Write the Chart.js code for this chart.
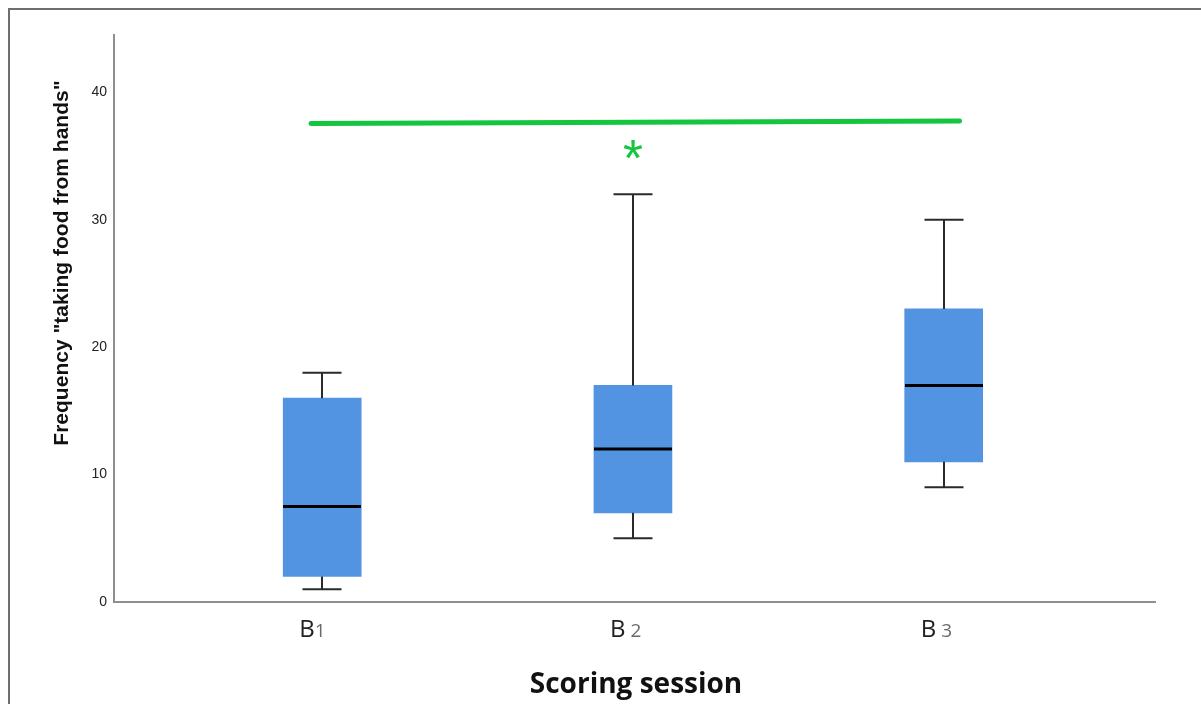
<!DOCTYPE html>
<html>
<head>
<meta charset="utf-8">
<script src="https://cdn.jsdelivr.net/npm/chart.js@4.4.1/dist/chart.umd.min.js"></script>
<style>
  html, body { margin: 0; padding: 0; background: #ffffff; }
  #wrap { width: 1201px; height: 704px; position: relative; }
</style>
</head>
<body>
<div id="wrap"><canvas id="chart" width="1201" height="704"></canvas></div>
<script>
// Scoring sessions and five-number summaries of the frequency counts
const categories   = ['B1', 'B 2', 'B 3'];
const whiskerLow   = [1, 5, 9];
const quartile1    = [2, 7, 11];
const medians      = [7.5, 12, 17];
const quartile3    = [16, 17, 23];
const whiskerHigh  = [18, 32, 30];
const yTicks       = [0, 10, 20, 30, 40];

// Significance bracket between B1 and B3, with its marker above B2
const bracketX     = [0.964, 3.051];
const bracketY     = [37.55, 37.75];
const sigMark      = '*';
const sigMarkAt    = 2;
const sigMarkY     = 35.5;

const yTitle = 'Frequency "taking food from hands"';
const xTitle = 'Scoring session';

const BOX_COLOR = '#5294e2';
const GREEN = '#14c63f';

function strokeLine(ctx, x1, y1, x2, y2) {
  ctx.beginPath();
  ctx.moveTo(x1, y1);
  ctx.lineTo(x2, y2);
  ctx.stroke();
}

// Page frame drawn behind everything
const framePlugin = {
  id: 'frame',
  beforeDraw(chart) {
    const ctx = chart.ctx;
    ctx.save();
    ctx.fillStyle = '#ffffff';
    ctx.fillRect(0, 0, chart.width, chart.height);
    ctx.strokeStyle = '#6e6e6e';
    ctx.lineWidth = 2;
    ctx.beginPath();
    ctx.moveTo(9, chart.height);
    ctx.lineTo(9, 9);
    ctx.lineTo(chart.width, 9);
    ctx.stroke();
    ctx.restore();
  }
};

// Whiskers, caps and median lines over the quartile boxes
const boxPlotPlugin = {
  id: 'boxPlot',
  afterDatasetsDraw(chart) {
    const ctx = chart.ctx;
    const y = chart.scales.y;
    const meta = chart.getDatasetMeta(0);
    ctx.save();
    categories.forEach((c, i) => {
      const bar = meta.data[i];
      const cx = Math.round(bar.x);
      const half = bar.width / 2;
      const capHalf = half / 2;
      const pHigh = y.getPixelForValue(whiskerHigh[i]);
      const pQ3 = y.getPixelForValue(quartile3[i]);
      const pQ1 = y.getPixelForValue(quartile1[i]);
      const pLow = y.getPixelForValue(whiskerLow[i]);
      const pMed = y.getPixelForValue(medians[i]);

      ctx.strokeStyle = '#2a2a2a';
      ctx.lineWidth = 2;
      strokeLine(ctx, cx, pQ3, cx, pHigh);
      strokeLine(ctx, cx - capHalf, pHigh, cx + capHalf, pHigh);
      strokeLine(ctx, cx, pQ1, cx, pLow);
      strokeLine(ctx, cx - capHalf, pLow, cx + capHalf, pLow);

      ctx.strokeStyle = '#000000';
      ctx.lineWidth = 3;
      strokeLine(ctx, cx - half, pMed, cx + half, pMed);
    });
    ctx.restore();
  }
};

// Axis titles, session labels and the significance marker
const textPlugin = {
  id: 'texts',
  afterDraw(chart) {
    const ctx = chart.ctx;
    const x = chart.scales.x;
    const y = chart.scales.y;
    ctx.save();

    // y-axis title
    ctx.save();
    ctx.translate(68, 263);
    ctx.rotate(-Math.PI / 2);
    ctx.font = 'bold 21px "Liberation Sans", Arial, sans-serif';
    ctx.fillStyle = '#111111';
    ctx.textAlign = 'center';
    ctx.textBaseline = 'alphabetic';
    ctx.fillText(yTitle, 0, 0);
    ctx.restore();

    // x-axis title
    ctx.font = 'bold 28px "Open Sans", sans-serif';
    ctx.fillStyle = '#111111';
    ctx.textAlign = 'center';
    ctx.textBaseline = 'alphabetic';
    ctx.fillText(xTitle, 636, 693);

    // session labels: letter in dark, number in lighter grey
    ctx.textAlign = 'left';
    categories.forEach((label, i) => {
      const cx = x.getPixelForValue(i + 1);
      const head = label.charAt(0);
      const tail = label.slice(1);
      ctx.font = '24px "Open Sans", sans-serif';
      ctx.fillStyle = '#222222';
      const left = cx - 23;
      ctx.fillText(head, left, 637);
      const w = ctx.measureText(head).width;
      ctx.font = '19px "Open Sans", sans-serif';
      ctx.fillStyle = '#6a6a6a';
      ctx.fillText(tail, left + w, 637);
    });

    // significance asterisk, sized by its ink width
    let size = 100;
    ctx.font = size + 'px "Liberation Sans", Arial, sans-serif';
    let m = ctx.measureText(sigMark);
    const inkW = m.actualBoundingBoxLeft + m.actualBoundingBoxRight;
    size = size * 19 / inkW;
    ctx.font = size + 'px "Liberation Sans", Arial, sans-serif';
    m = ctx.measureText(sigMark);
    const mx = x.getPixelForValue(sigMarkAt);
    const my = y.getPixelForValue(sigMarkY);
    ctx.fillStyle = GREEN;
    ctx.fillText(sigMark,
      mx - (m.actualBoundingBoxRight - m.actualBoundingBoxLeft) / 2,
      my + (m.actualBoundingBoxAscent - m.actualBoundingBoxDescent) / 2);

    ctx.restore();
  }
};

new Chart(document.getElementById('chart'), {
  type: 'bar',
  data: {
    datasets: [
      {
        type: 'bar',
        data: categories.map((c, i) => ({ x: i + 1, y: [quartile1[i], quartile3[i]] })),
        backgroundColor: BOX_COLOR,
        borderWidth: 0,
        barThickness: 78,
        grouped: false
      },
      {
        type: 'line',
        data: bracketX.map((v, i) => ({ x: v, y: bracketY[i] })),
        borderColor: GREEN,
        borderWidth: 5,
        borderCapStyle: 'round',
        pointRadius: 0,
        fill: false
      }
    ]
  },
  options: {
    responsive: false,
    animation: false,
    devicePixelRatio: 1,
    layout: { padding: { left: 0, right: 46, top: 35, bottom: 0 } },
    plugins: { legend: { display: false }, tooltip: { enabled: false } },
    scales: {
      x: {
        type: 'linear',
        offset: false,
        min: 0.33,
        max: 3.68,
        afterFit(s) { s.height = 102; },
        grid: { display: false, drawTicks: false, offset: false },
        border: { color: '#8f8f8f', width: 2 },
        ticks: { display: false }
      },
      y: {
        type: 'linear',
        min: 0,
        max: 44.5,
        afterFit(s) { s.width = 114; },
        afterBuildTicks(s) { s.ticks = yTicks.map(v => ({ value: v })); },
        grid: { display: false, drawTicks: false },
        border: { color: '#8f8f8f', width: 2 },
        ticks: {
          padding: 7,
          color: '#222222',
          font: { family: '"Liberation Sans", Arial, sans-serif', size: 14 }
        }
      }
    }
  },
  plugins: [framePlugin, boxPlotPlugin, textPlugin]
});
</script>
</body>
</html>
